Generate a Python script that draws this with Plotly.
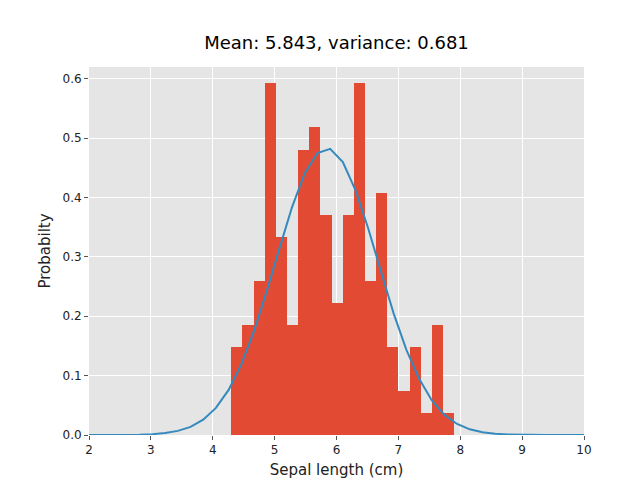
import plotly.graph_objects as go

# histogram of sepal length (density), 20 bins from 4.3 to 7.9
bin_left = [4.3 + 0.18 * i for i in range(20)]
bin_width = 0.18
density = [0.148, 0.185, 0.259, 0.593, 0.333, 0.185, 0.481, 0.519, 0.370, 0.222,
           0.370, 0.593, 0.259, 0.407, 0.148, 0.074, 0.148, 0.037, 0.185, 0.037]

# fitted normal curve
curve_x = [2 + 8 * k / 39 for k in range(40)]
curve_y = [0.00001, 0.00003, 0.00008, 0.00023, 0.0006, 0.0014, 0.0032, 0.0069, 0.0137, 0.0258,
           0.0457, 0.076, 0.119, 0.175, 0.242, 0.314, 0.384, 0.441, 0.475, 0.482,
           0.460, 0.412, 0.348, 0.276, 0.205, 0.144, 0.095, 0.0586, 0.0340, 0.0186,
           0.0096, 0.0046, 0.0021, 0.0009, 0.00036, 0.00014, 0.00005, 0.00002, 0.00001, 0.0]

centers = [b + bin_width / 2 for b in bin_left]

fig = go.Figure()
fig.add_trace(go.Bar(x=centers, y=density, width=bin_width,
                     marker=dict(color="#E24A33", line=dict(width=0))))
fig.add_trace(go.Scatter(x=curve_x, y=curve_y, mode="lines",
                         line=dict(color="#348ABD", width=2)))

fig.update_layout(
    width=640, height=480,
    margin=dict(l=81, r=64, t=59, b=53, autoexpand=False),
    paper_bgcolor="white", plot_bgcolor="#E5E5E5",
    showlegend=False, bargap=0,
    font=dict(family="DejaVu Sans", color="#222"),
    title=dict(text="Mean: 5.843, variance: 0.681", x=0.5, xanchor="center",
               xref="paper", y=0.915, yanchor="bottom", font=dict(size=18, color="black")),
)
fig.update_xaxes(range=[2, 10], dtick=1, showgrid=True, gridcolor="white", gridwidth=1,
                 zeroline=False, ticks="outside", ticklen=4, tickcolor="#555",
                 automargin=False, tickfont=dict(size=12),
                 title=dict(text="Sepal length (cm)", font=dict(size=15), standoff=8))
fig.update_yaxes(range=[0, 0.62], dtick=0.1, tickformat=".1f", showgrid=True,
                 gridcolor="white", gridwidth=1, zeroline=False, ticks="outside",
                 ticklen=4, tickcolor="#555", automargin=False, tickfont=dict(size=12),
                 title=dict(text="Probabilty", font=dict(size=15), standoff=8))

fig.write_html("out.html")
